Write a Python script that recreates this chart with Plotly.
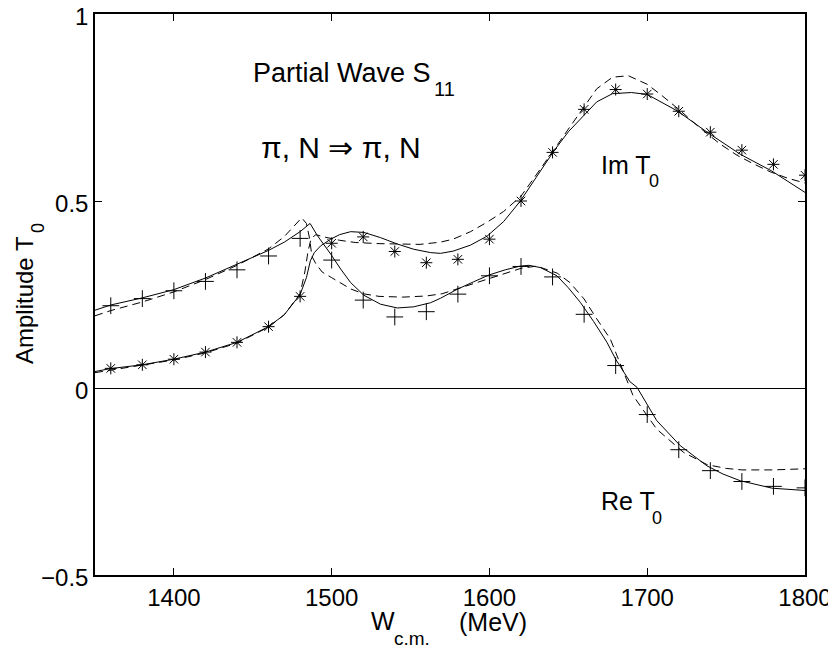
import plotly.graph_objects as go

# ---------------- data ----------------
W_pts = [1360, 1380, 1400, 1420, 1440, 1460, 1480, 1500, 1520, 1540, 1560, 1580,
         1600, 1620, 1640, 1660, 1680, 1700, 1720, 1740, 1760, 1780, 1800]
re_pts = [0.220, 0.239, 0.260, 0.285, 0.316, 0.353, 0.400, 0.342, 0.235, 0.190, 0.204, 0.251,
          0.300, 0.325, 0.297, 0.197, 0.060, -0.071, -0.165, -0.221, -0.250, -0.263, -0.267]
im_pts = [0.0525, 0.062, 0.077, 0.096, 0.122, 0.164, 0.245, 0.387, 0.404, 0.365, 0.335, 0.344,
          0.398, 0.500, 0.630, 0.745, 0.798, 0.786, 0.740, 0.684, 0.636, 0.598, 0.569]

re_solid_W = [1350, 1360, 1380, 1400, 1420, 1440, 1460, 1470, 1480, 1486.3, 1491, 1499.4,
              1505.7, 1512, 1520.4, 1531, 1541.6, 1552, 1562.7, 1569, 1579.6, 1590, 1599.6,
              1610, 1619.6, 1625, 1632.3, 1642.8, 1650, 1657.6, 1666, 1674.5, 1680, 1689,
              1693.5, 1706, 1720.9, 1737.8, 1748, 1759, 1779.3, 1800]
re_solid_y = [0.208, 0.222, 0.241, 0.263, 0.294, 0.330, 0.368, 0.390, 0.418, 0.440, 0.407, 0.358,
              0.318, 0.282, 0.248, 0.224, 0.214, 0.217, 0.228, 0.240, 0.264, 0.284, 0.302,
              0.316, 0.326, 0.328, 0.322, 0.300, 0.268, 0.229, 0.178, 0.122, 0.077, 0.017,
              0.002, -0.087, -0.154, -0.208, -0.230, -0.248, -0.268, -0.274]

re_dash_W = [1350, 1360, 1380, 1400, 1420, 1440, 1460, 1470, 1481, 1484, 1486, 1487.5, 1490,
             1494, 1500, 1505, 1512, 1520, 1530, 1545, 1560, 1570, 1580, 1600, 1620, 1630,
             1638, 1643, 1651, 1660, 1668, 1676.6, 1691, 1706, 1723, 1738, 1750, 1760, 1780, 1800]
re_dash_y = [0.193, 0.207, 0.230, 0.257, 0.290, 0.328, 0.372, 0.405, 0.455, 0.440, 0.400, 0.352, 0.332,
             0.310, 0.295, 0.283, 0.265, 0.252, 0.245, 0.243, 0.246, 0.252, 0.266, 0.294, 0.320, 0.326,
             0.315, 0.307, 0.282, 0.238, 0.185, 0.131, -0.020, -0.110, -0.172, -0.205, -0.215, -0.219,
             -0.219, -0.216]

im_solid_W = [1350, 1360, 1380, 1400, 1420, 1440, 1460, 1470, 1480, 1484, 1486.5, 1489, 1493,
              1499.4, 1505, 1512, 1520.4, 1531, 1541.6, 1552, 1562.7, 1569, 1577, 1588, 1598.5,
              1609, 1619.6, 1630, 1640.7, 1650, 1658, 1668, 1678, 1690, 1700, 1719, 1739, 1759,
              1779, 1800]
im_solid_y = [0.044, 0.052, 0.062, 0.077, 0.096, 0.122, 0.164, 0.196, 0.250, 0.295, 0.340, 0.362, 0.380,
              0.398, 0.410, 0.418, 0.416, 0.402, 0.385, 0.371, 0.362, 0.360, 0.366, 0.382, 0.406,
              0.445, 0.500, 0.565, 0.633, 0.685, 0.720, 0.765, 0.787, 0.790, 0.785, 0.741, 0.681, 0.625,
              0.580, 0.523]

im_dash_W = [1350, 1360, 1380, 1400, 1420, 1440, 1460, 1470, 1480, 1483, 1485, 1487, 1490, 1495,
             1505, 1515, 1530, 1545, 1556, 1569, 1577, 1588, 1598, 1609, 1620, 1630, 1641, 1652,
             1662, 1668, 1678, 1688, 1700, 1709, 1720, 1733, 1746, 1757, 1768, 1778, 1789, 1800]
im_dash_y = [0.041, 0.048, 0.060, 0.075, 0.094, 0.120, 0.163, 0.196, 0.252, 0.310, 0.365, 0.400, 0.410, 0.404,
             0.395, 0.389, 0.386, 0.384, 0.384, 0.390, 0.398, 0.418, 0.442, 0.472, 0.513, 0.572, 0.638, 0.705,
             0.765, 0.800, 0.831, 0.835, 0.812, 0.783, 0.745, 0.697, 0.653, 0.622, 0.598, 0.578, 0.561, 0.548]

x_ticks = [1400, 1500, 1600, 1700, 1800]
y_ticks = [-0.5, 0, 0.5, 1]
y_tick_text = ["\u22120.5", "0", "0.5", "1"]

# ---------------- figure ----------------
FONT = "Liberation Sans, Arial, Helvetica, sans-serif"
W, H = 836, 648
ML, MR, MT, MB = 87, 39, 6, 81
OFF = 8  # page body offset of the plot div


def px(sx):
    return (sx - OFF - ML) / (W - ML - MR)


def py(sy):
    return (H - MB - (sy - OFF)) / (H - MB - MT)


fig = go.Figure()
line_solid = dict(color="black", width=1)
line_dash = dict(color="black", width=1, dash="8px,5px")

fig.add_trace(go.Scatter(x=re_solid_W, y=re_solid_y, mode="lines", line=line_solid, showlegend=False))
fig.add_trace(go.Scatter(x=re_dash_W, y=re_dash_y, mode="lines", line=line_dash, showlegend=False))
fig.add_trace(go.Scatter(x=im_solid_W, y=im_solid_y, mode="lines", line=line_solid, showlegend=False))
fig.add_trace(go.Scatter(x=im_dash_W, y=im_dash_y, mode="lines", line=line_dash, showlegend=False))
fig.add_trace(go.Scatter(x=W_pts, y=re_pts, mode="markers", showlegend=False,
                         marker=dict(symbol="cross-thin-open", size=12, color="black",
                                     line=dict(color="black", width=1))))
fig.add_trace(go.Scatter(x=W_pts, y=im_pts, mode="markers", showlegend=False,
                         marker=dict(symbol="asterisk-open", size=10, color="black",
                                     line=dict(color="black", width=1))))

axis_common = dict(showgrid=False, showline=True, linecolor="black", linewidth=1.5,
                   mirror="ticks", ticks="inside", ticklen=7, tickcolor="black", tickwidth=1,
                   automargin=False, ticklabeloverflow="allow",
                   tickfont=dict(family=FONT, size=24, color="black"))

fig.update_xaxes(range=[1350, 1800], tickvals=x_ticks, zeroline=False, **axis_common)
fig.update_yaxes(range=[-0.5, 1], tickvals=y_ticks, ticktext=y_tick_text, ticklabelshift=3,
                 zeroline=True, zerolinecolor="black", zerolinewidth=1, **axis_common)


def txt(text, sx, sy, size, xanchor="left", angle=0):
    return dict(text=text, x=px(sx), y=py(sy), xanchor=xanchor, yanchor="middle",
                textangle=angle, xref="paper", yref="paper", showarrow=False, borderpad=0,
                font=dict(family=FONT, size=size, color="black"))


ann = [
    txt("Partial Wave S", 252, 73, 27),
    txt("11", 433, 89, 20),
    txt("\u03c0, N \u21d2 \u03c0, N", 341, 147, 30, xanchor="center"),
    txt("Im T", 600, 165, 25),
    txt("0", 648, 181, 18),
    txt("Re T", 600, 501, 25),
    txt("0", 651, 518, 18),
    txt("W", 370, 621, 25),
    txt("c.m.", 393, 638, 19),
    txt("(MeV)", 458, 622, 25),
    txt("Amplitude T", 24, 300, 24, xanchor="center", angle=-90),
    txt("0", 38, 228, 18, xanchor="center", angle=-90),
]

fig.update_layout(width=W, height=H, margin=dict(l=ML, r=MR, t=MT, b=MB),
                  plot_bgcolor="white", paper_bgcolor="white", annotations=ann,
                  font=dict(family=FONT, color="black"))

fig.write_html("out.html")
